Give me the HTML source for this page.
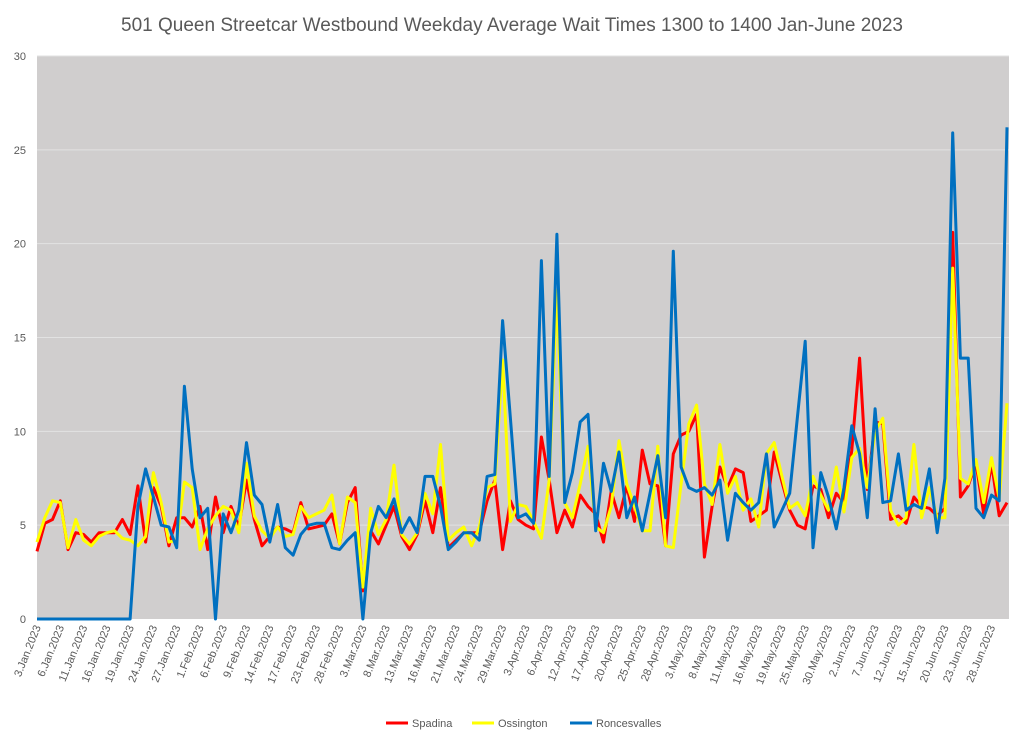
<!DOCTYPE html>
<html><head><meta charset="utf-8">
<style>
html,body{margin:0;padding:0;background:#fff;}
svg{display:block;font-family:"Liberation Sans",sans-serif;}
</style></head>
<body>
<svg id="chart" width="1024" height="743" viewBox="0 0 1024 743" xmlns="http://www.w3.org/2000/svg">
<rect x="0" y="0" width="1024" height="743" fill="#ffffff"/>
<text x="512" y="31" text-anchor="middle" font-size="19" fill="#595959">501 Queen Streetcar Westbound Weekday Average Wait Times 1300 to 1400 Jan-June 2023</text>
<rect x="37" y="56" width="972" height="563" fill="#d0cece"/>
<g id="grid"></g>
<g id="yticks"></g>
<g id="xticks"></g>
<g id="series"></g>
<g>
<line x1="386" y1="723" x2="408" y2="723" stroke="#ff0000" stroke-width="3"/>
<text x="412" y="727" font-size="11" fill="#595959">Spadina</text>
<line x1="472" y1="723" x2="494" y2="723" stroke="#ffff00" stroke-width="3"/>
<text x="498" y="727" font-size="11" fill="#595959">Ossington</text>
<line x1="570" y1="723" x2="592" y2="723" stroke="#0070c0" stroke-width="3"/>
<text x="596" y="727" font-size="11" fill="#595959">Roncesvalles</text>
</g>
</svg>
<script>
const months = ["Jan","Feb","Mar","Apr","May","Jun"];
const holidays = ["2023-02-20","2023-04-07","2023-05-22"];
const yTicks = [0,5,10,15,20,25,30];
const spadina = [3.6,5.1,5.3,6.3,3.7,4.6,4.5,4.1,4.6,4.6,4.6,5.3,4.5,7.1,4.1,7.0,6.0,3.9,5.4,5.4,4.9,
6.0,3.7,6.5,4.6,6.0,4.9,7.4,5.3,3.9,4.4,4.9,4.8,4.6,6.2,4.8,4.9,5.0,5.6,4.0,6.2,7.0,1.5,
4.7,4.0,5.0,6.0,4.4,3.7,4.5,6.3,4.6,7.0,3.8,4.2,4.6,4.6,4.6,6.3,7.4,3.7,6.3,
5.3,5.0,4.8,9.7,7.4,4.6,5.8,4.9,6.6,6.0,5.6,4.1,6.8,5.4,7.1,5.2,9.0,7.2,7.1,3.9,8.8,9.8,10.0,10.9,
3.3,6.0,8.1,7.0,8.0,7.8,5.2,5.5,5.8,8.9,7.3,5.8,5.0,4.8,7.1,6.9,5.4,6.7,6.2,9.0,13.9,6.9,10.5,
10.4,5.3,5.5,5.1,6.5,6.0,5.9,5.5,5.9,20.6,6.5,7.1,8.3,5.6,8.3,5.5,6.2];
const ossington = [4.1,5.4,6.3,6.2,3.8,5.3,4.2,3.9,4.4,4.6,4.7,4.3,4.2,3.9,4.4,7.8,6.2,4.1,4.2,7.3,7.0,
3.7,4.8,5.5,6.0,5.8,4.6,8.3,5.5,4.7,4.3,4.9,4.4,4.5,6.0,5.4,5.6,5.8,6.6,4.0,6.5,6.2,1.7,
5.9,4.5,5.3,8.2,4.5,4.0,4.6,6.7,5.6,9.3,4.2,4.6,4.9,3.9,4.9,7.0,7.2,13.8,5.2,
6.1,6.0,5.2,4.3,7.4,17.5,6.2,5.4,7.2,9.2,4.9,4.6,6.0,9.5,7.2,6.0,4.7,4.7,9.2,3.9,3.8,7.2,10.4,11.4,
7.2,6.1,9.3,6.7,7.6,5.8,6.4,4.9,8.8,9.4,7.6,5.9,6.2,5.5,7.6,6.6,5.8,8.1,5.7,8.6,9.1,7.0,10.0,
10.7,5.8,5.0,5.4,9.3,5.4,7.0,5.4,5.4,18.7,7.5,7.2,8.5,6.2,8.6,6.4,11.5];
const roncesvalles = [0,0,0,0,0,0,0,0,0,0,0,0,0,6.0,8.0,6.5,5.0,4.9,3.8,12.4,8.0,
5.4,5.9,0,5.6,4.6,5.8,9.4,6.6,6.1,4.1,6.1,3.8,3.4,4.5,5.0,5.1,5.1,3.8,3.7,4.2,4.6,0,
4.6,6.0,5.4,6.4,4.6,5.4,4.6,7.6,7.6,6.0,3.7,4.1,4.6,4.6,4.2,7.6,7.7,15.9,10.7,
5.4,5.6,5.1,19.1,7.6,20.5,6.2,7.8,10.5,10.9,4.7,8.3,6.8,8.9,5.4,6.5,4.7,6.7,8.7,5.4,19.6,8.1,7.0,6.8,
7.0,6.6,7.4,4.2,6.7,6.2,5.8,6.2,8.8,4.9,5.8,6.7,10.8,14.8,3.8,7.8,6.5,4.8,7.0,10.3,8.8,5.4,11.2,
6.2,6.3,8.8,5.8,6.1,5.9,8.0,4.6,7.5,25.9,13.9,13.9,5.9,5.4,6.6,6.3,26.2];

// build weekday categories
const categories = [];
(function(){
  const d = new Date(Date.UTC(2023,0,3));
  const end = new Date(Date.UTC(2023,5,30));
  while (d <= end) {
    const wd = d.getUTCDay();
    const iso = d.toISOString().slice(0,10);
    if (wd !== 0 && wd !== 6 && holidays.indexOf(iso) < 0) {
      categories.push(d.getUTCDate() + "." + months[d.getUTCMonth()] + ".2023");
    }
    d.setUTCDate(d.getUTCDate() + 1);
  }
})();

const NS = "http://www.w3.org/2000/svg";
const PL = 37, PR = 1007, PT = 56, PB = 619, YMAX = 30;
const n = categories.length;
function xPos(i){ return PL + (PR - PL) * i / (n - 1); }
function yPos(v){ return PB - (PB - PT) * v / YMAX; }

const grid = document.getElementById("grid");
const yt = document.getElementById("yticks");
yTicks.forEach(function(t){
  if (t > 0) {
    const l = document.createElementNS(NS, "line");
    
    
    l.setAttribute("x1", PL); l.setAttribute("x2", 1009);
    l.setAttribute("y1", yPos(t)); l.setAttribute("y2", yPos(t));
    l.setAttribute("stroke", "#e2e2e2"); l.setAttribute("stroke-width", "1");
    grid.appendChild(l);
  }
  const tx = document.createElementNS(NS, "text");
  
  
  tx.setAttribute("x", 26); tx.setAttribute("y", yPos(t) + 4);
  tx.setAttribute("text-anchor", "end"); tx.setAttribute("font-size", "11");
  tx.setAttribute("fill", "#595959");
  tx.textContent = t;
  yt.appendChild(tx);
});

const xt = document.getElementById("xticks");
for (let i = 0; i < n; i += 3) {
  const tx = document.createElementNS(NS, "text");
  
  
  const x = xPos(i) + 4, y = 627;
  tx.setAttribute("x", x); tx.setAttribute("y", y);
  tx.setAttribute("text-anchor", "end"); tx.setAttribute("font-size", "11");
  tx.setAttribute("fill", "#595959");
  tx.setAttribute("transform", "rotate(-68 " + x + " " + y + ")");
  tx.textContent = categories[i];
  xt.appendChild(tx);
}

const sg = document.getElementById("series");
[["spadina", spadina, "#ff0000"], ["ossington", ossington, "#ffff00"], ["roncesvalles", roncesvalles, "#0070c0"]].forEach(function(s){
  const p = document.createElementNS(NS, "polyline");
  
  
  p.setAttribute("points", s[1].map(function(v, i){ return xPos(i).toFixed(1) + "," + yPos(v).toFixed(1); }).join(" "));
  p.setAttribute("fill", "none"); p.setAttribute("stroke", s[2]);
  p.setAttribute("stroke-width", "3"); p.setAttribute("stroke-linejoin", "round");
  sg.appendChild(p);
});
</script>
</body></html>
